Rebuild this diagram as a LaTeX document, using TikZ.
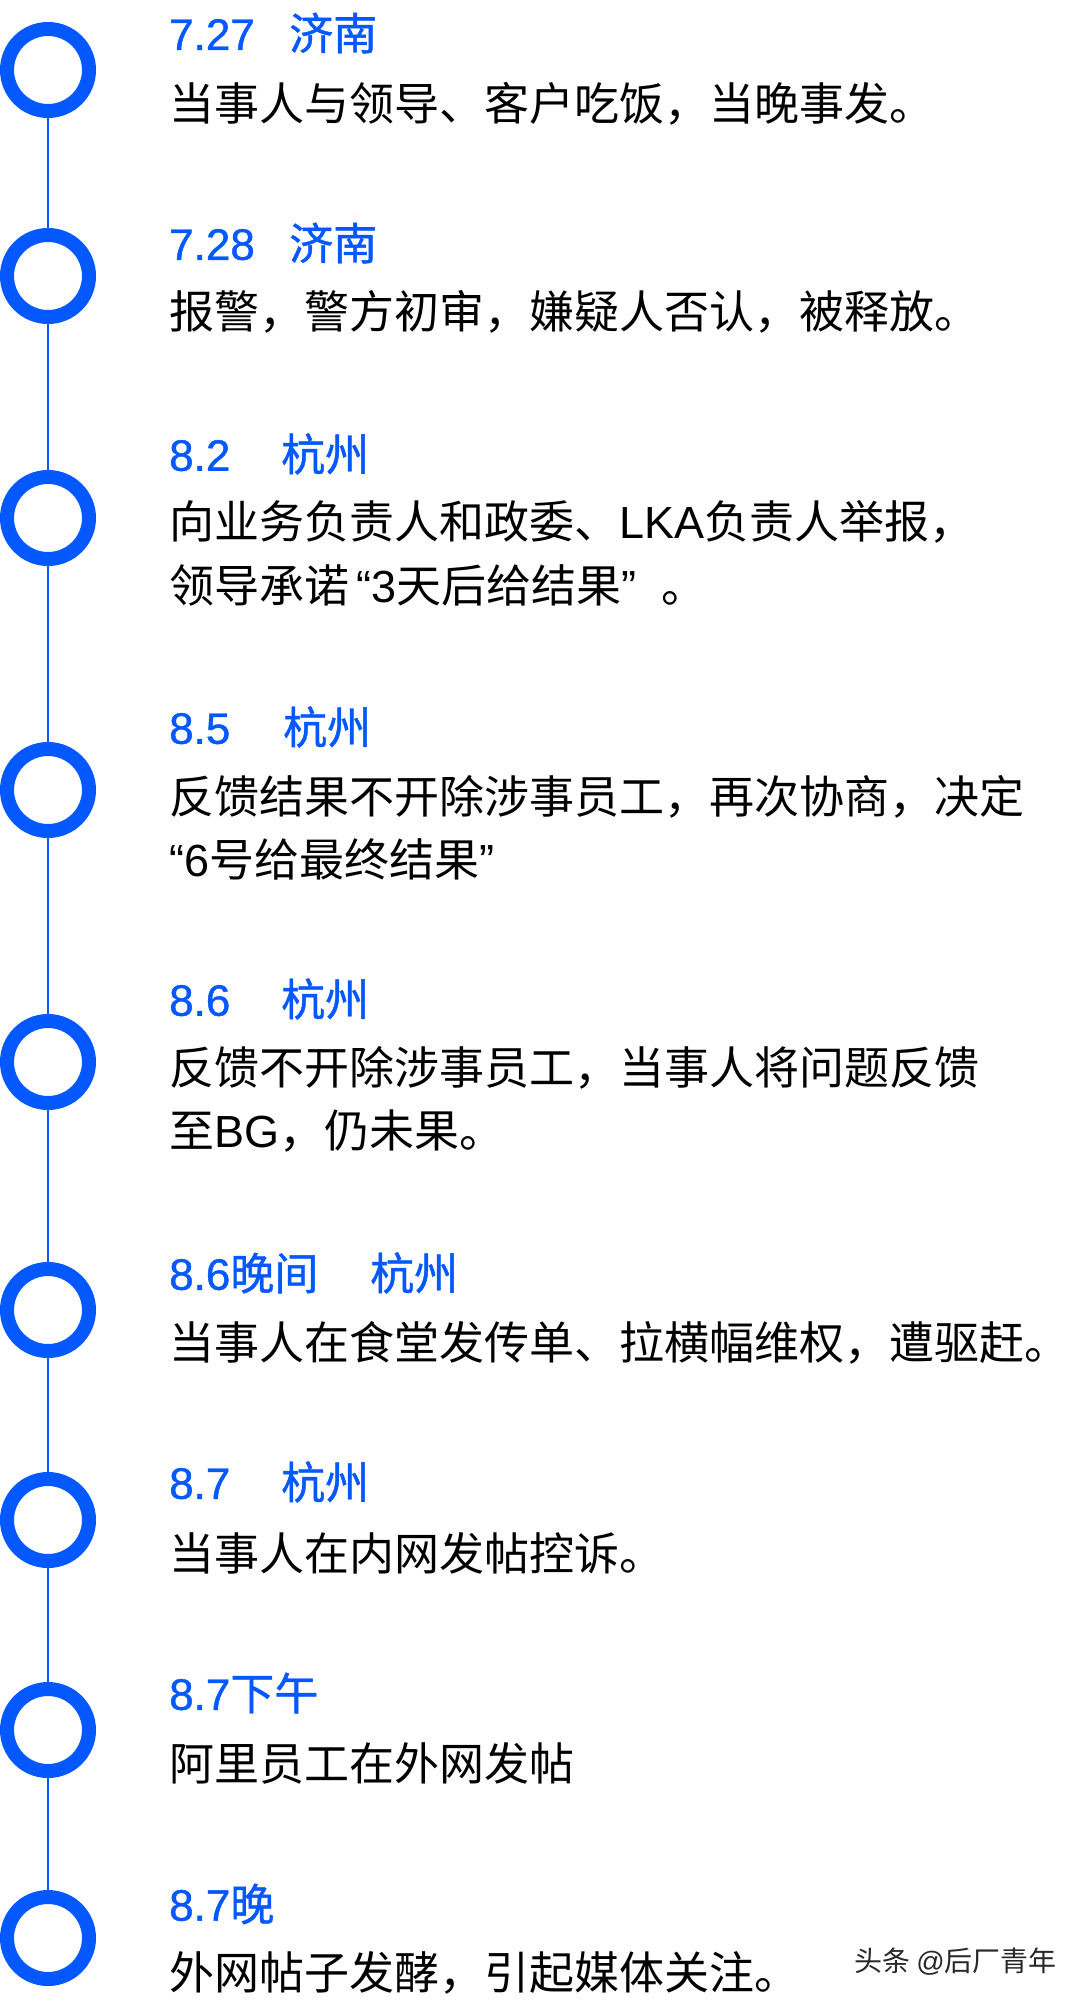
\documentclass[tikz,border=0pt]{standalone}
\usepackage{fontspec}
\newfontfamily\cjk{Noto Sans CJK SC}
\newfontfamily\cjkt[FakeBold=1]{Noto Sans CJK SC}
\newfontfamily\lat{Liberation Sans}
\newfontfamily\latt[FakeBold=1]{Liberation Sans}
\definecolor{tlblue}{RGB}{3,88,255}
\definecolor{wmgray}{RGB}{40,40,40}
\begin{document}
\begin{tikzpicture}[x=1pt,y=-1pt,
  ring/.style={circle,draw=tlblue,line width=14pt,fill=white,minimum size=82pt,inner sep=0pt,outer sep=0pt},
  conn/.style={draw=tlblue,line width=2.2pt},
  ttl/.style={anchor=west,inner sep=0pt,text=tlblue,font=\cjkt\fontsize{44}{52}\selectfont},
  body/.style={anchor=west,inner sep=0pt,text=black,font=\cjk\fontsize{45}{54}\selectfont},
  wm/.style={anchor=east,inner sep=0pt,text=wmgray,font=\cjk\fontsize{28}{32}\selectfont}]
\fill[white] (0,0) rectangle (1080,2004);
\useasboundingbox (0,0) rectangle (1080,2004);

% rings
\node[ring] (c1) at (48,70) {};
\node[ring] (c2) at (48,276) {};
\node[ring] (c3) at (48,518) {};
\node[ring] (c4) at (48,790) {};
\node[ring] (c5) at (48,1062) {};
\node[ring] (c6) at (48,1310) {};
\node[ring] (c7) at (48,1520) {};
\node[ring] (c8) at (48,1730) {};
\node[ring] (c9) at (48,1938) {};

\foreach \a/\b in {c1/c2,c2/c3,c3/c4,c4/c5,c5/c6,c6/c7,c7/c8,c8/c9}
  \draw[conn] (\a.south) -- (\b.north);

% entries
\node[ttl] (t1) at (169,33) {\makebox[120pt][l]{\latt 7.27}济南};
\node[body] (b1) at (169,104) {当事人与领导、客户吃饭，当晚事发。};

\node[ttl] (t2) at (169,243) {\makebox[120pt][l]{\latt 7.28}济南};
\node[body] (b2) at (169,312) {报警，警方初审，嫌疑人否认，被释放。};

\node[ttl] (t3) at (169,454) {\makebox[112pt][l]{\latt 8.2}杭州};
\node[body] (b3a) at (169,522) {向业务负责人和政委、{\lat LKA}负责人举报，};
\node[body] (b3b) at (169,585) {领导承诺{\lat \,“3}天后给结果\makebox[40pt][l]{\lat ”}。};

\node[ttl] (t4) at (169,727) {\makebox[114pt][l]{\latt 8.5}杭州};
\node[body] (b4a) at (169,797) {反馈结果不开除涉事员工，再次协商，决定};
\node[body] (b4b) at (169,859) {{\lat “6}号给最终结果{\lat ”}};

\node[ttl] (t5) at (169,999) {\makebox[112pt][l]{\latt 8.6}杭州};
\node[body] (b5a) at (169,1068) {反馈不开除涉事员工，当事人将问题反馈};
\node[body] (b5b) at (169,1131) {至{\lat BG}，仍未果。};

\node[ttl] (t6) at (169,1273) {\makebox[201pt][l]{{\latt 8.6}晚间}杭州};
\node[body] (b6) at (169,1343) {当事人在食堂发传单、拉横幅维权，遭驱赶。};

\node[ttl] (t7) at (169,1482) {\makebox[112pt][l]{\latt 8.7}杭州};
\node[body] (b7) at (169,1553) {当事人在内网发帖控诉。};

\node[ttl] (t8) at (169,1693) {{\latt 8.7}下午};
\node[body] (b8) at (169,1763) {阿里员工在外网发帖};

\node[ttl] (t9) at (169,1904) {{\latt 8.7}晚};
\node[body] (b9) at (169,1973) {外网帖子发酵，引起媒体关注。};

\node[wm] (wm) at (1057,1962) {头条 {\lat @}后厂青年};
\end{tikzpicture}
\end{document}
